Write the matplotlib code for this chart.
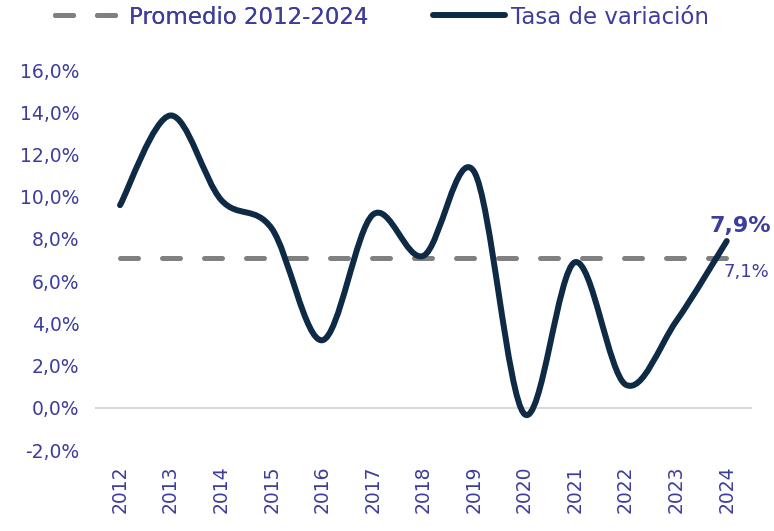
import numpy as np
import matplotlib.pyplot as plt
from matplotlib.path import Path
from matplotlib.patches import PathPatch
from matplotlib.lines import Line2D
from matplotlib.ticker import FuncFormatter

plt.rcParams["font.family"] = ["DejaVu Sans"]

years = ["2012", "2013", "2014", "2015", "2016", "2017", "2018",
         "2019", "2020", "2021", "2022", "2023", "2024"]
tasa = [9.6, 13.85, 9.85, 8.5, 3.2, 9.15, 7.2, 11.2, -0.3, 6.9, 1.1, 4.1, 7.9]
promedio = 7.1

TEXT = "#3d3d9e"
NAVY = "#0f2a45"
GREY = "#808080"

fig = plt.figure(figsize=(7.74, 5.31), dpi=100)
ax = fig.add_axes([0.1224, 0.1525, 0.8492, 0.7155])

x = np.arange(len(years))
y = np.array(tasa)

# linea suavizada (Catmull-Rom -> Bezier, como el suavizado de Excel)
verts = [(x[0], y[0])]
codes = [Path.MOVETO]
n = len(x)
for i in range(n - 1):
    p0 = np.array([x[max(i - 1, 0)], y[max(i - 1, 0)]])
    p1 = np.array([x[i], y[i]])
    p2 = np.array([x[i + 1], y[i + 1]])
    p3 = np.array([x[min(i + 2, n - 1)], y[min(i + 2, n - 1)]])
    c1 = p1 + (p2 - p0) / 6
    c2 = p2 - (p3 - p1) / 6
    verts += [tuple(c1), tuple(c2), tuple(p2)]
    codes += [Path.CURVE4] * 3
curve = PathPatch(Path(verts, codes), fill=False, edgecolor=NAVY, lw=4.3,
                  capstyle="round", joinstyle="round", zorder=3)

ax.axhline(0, color="#d9d9d9", lw=1.5, zorder=1)
ax.plot(x, [promedio] * n, color=GREY, lw=3.6, dashes=(3.6, 4.8),
        dash_capstyle="round", zorder=2)
ax.add_patch(curve)

ax.set_xlim(-0.5, n - 0.5)
ax.set_ylim(-2, 16)
ax.set_yticks(np.arange(-2, 17, 2))
ax.yaxis.set_major_formatter(FuncFormatter(lambda v, p: f"{v:.1f}%".replace(".", ",")))
ax.set_xticks(x)
ax.set_xticklabels(years, rotation=90)
ax.tick_params(axis="both", length=0, labelsize=13.5, colors=TEXT)
ax.tick_params(axis="x", pad=11)
ax.tick_params(axis="y", pad=11)
for s in ax.spines.values():
    s.set_visible(False)

ax.annotate(f"{tasa[-1]:.1f}%".replace(".", ","), xy=(x[-1], tasa[-1]),
            xytext=(44, 9), textcoords="offset pixels", ha="right",
            va="baseline", fontsize=16, fontweight="bold", color=TEXT,
            annotation_clip=False)
ax.annotate(f"{promedio:.1f}%".replace(".", ","), xy=(x[-1], promedio),
            xytext=(43, -5), textcoords="offset pixels", ha="right",
            va="top", fontsize=13, color=TEXT, annotation_clip=False)

h_prom = Line2D([], [], color=GREY, lw=3.6, dashes=(3.6, 4.8), dash_capstyle="round")
h_tasa = Line2D([], [], color=NAVY, lw=4.3, solid_capstyle="round")
leg1 = fig.legend([h_prom], ["Promedio 2012-2024"], loc="center left",
                  bbox_to_anchor=(55 / 774, 1 - 17 / 531), frameon=False,
                  fontsize=16.5, handlelength=2.75, handletextpad=0.5,
                  borderpad=0, borderaxespad=0, labelcolor=TEXT)
leg2 = fig.legend([h_tasa], ["Tasa de variación"], loc="center left",
                  bbox_to_anchor=(433 / 774, 1 - 17 / 531), frameon=False,
                  fontsize=16.5, handlelength=3.15, handletextpad=0.25,
                  borderpad=0, borderaxespad=0, labelcolor=TEXT)
fig.add_artist(leg1)

fig.savefig("out.png", dpi=100)
